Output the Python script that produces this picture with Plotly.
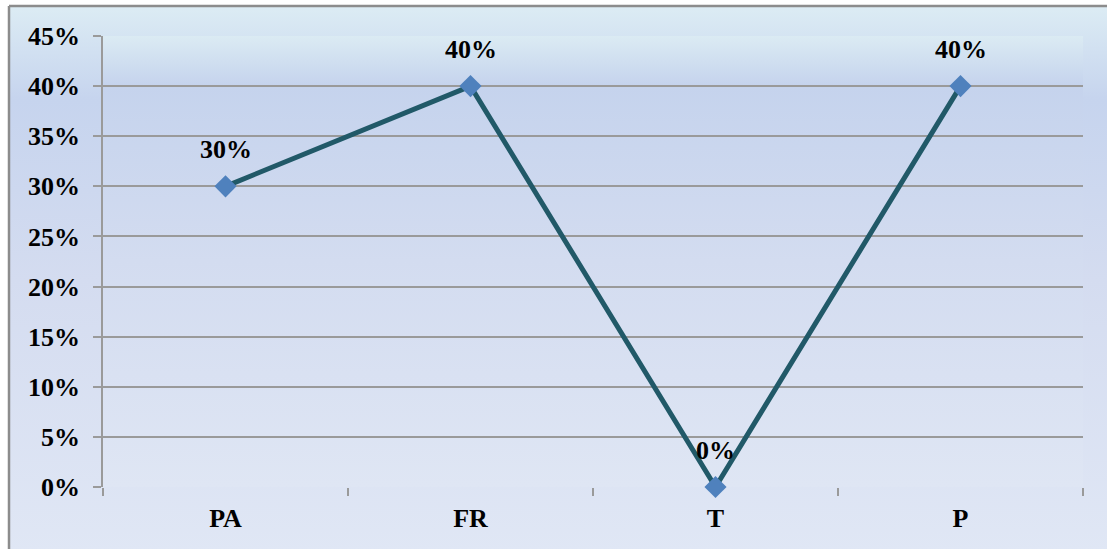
import base64
import plotly.graph_objects as go

categories = ["PA", "FR", "T", "P"]
values = [0.30, 0.40, 0.0, 0.40]
labels = ["30%", "40%", "0%", "40%"]

FONT = "Liberation Serif, Times New Roman, serif"

def grad_svg(stops):
    st = "".join(f'<stop offset="{o}" stop-color="{c}"/>' for o, c in stops)
    svg = ('<svg xmlns="http://www.w3.org/2000/svg" width="100" height="100" preserveAspectRatio="none">'
           f'<defs><linearGradient id="g" x1="0" y1="0" x2="0" y2="1">{st}</linearGradient></defs>'
           '<rect width="100" height="100" fill="url(#g)"/></svg>')
    return "data:image/svg+xml;base64," + base64.b64encode(svg.encode()).decode()

paper_grad = grad_svg([(0, "#dcecf4"), (0.17, "#c6d4ee"), (0.5, "#d4dcf0"), (1, "#e0e7f5")])
plot_grad = grad_svg([(0, "#dbebf3"), (0.11, "#c5d3ed"), (0.5, "#d3dcf0"), (1, "#dfe6f4")])

fig = go.Figure()
fig.add_trace(go.Scatter(
    x=categories, y=values, mode="lines+markers",
    line=dict(color="#215968", width=5),
    marker=dict(symbol="diamond", size=17, color="#4f81bd"),
    cliponaxis=False, showlegend=False,
))

for c, v, t in zip(categories, values, labels):
    fig.add_annotation(x=c, y=v, text=f"<b>{t}</b>", showarrow=False, yshift=37,
                       font=dict(family=FONT, size=26, color="#000000"))

W, H = 1107, 549
L, R, T, B = 103, 24, 36, 62
PW, PH = W - L - R, H - T - B

fig.update_layout(
    width=W, height=H,
    margin=dict(l=L, r=R, t=T, b=B),
    paper_bgcolor="#ffffff",
    plot_bgcolor="rgba(0,0,0,0)",
    font=dict(family=FONT, size=26, color="#000000"),
    images=[
        dict(source=paper_grad, xref="paper", yref="paper",
             x=(9 - L) / PW, y=1 + (T - 6) / PH,
             sizex=(W - 9 + 5) / PW, sizey=(H - 6 + 5) / PH,
             sizing="stretch", layer="below", xanchor="left", yanchor="top"),
        dict(source=plot_grad, xref="paper", yref="paper", x=0, y=1, sizex=1, sizey=1,
             sizing="stretch", layer="below", xanchor="left", yanchor="top"),
    ],
    shapes=[
        dict(type="line", xref="paper", yref="paper",
             x0=(9 - L) / PW, x1=(9 - L) / PW,
             y0=-(B + 10) / PH, y1=1 + (T - 6) / PH,
             line=dict(color="#8c8c8c", width=2.5), layer="above"),
        dict(type="line", xref="paper", yref="paper",
             x0=(9 - L) / PW, x1=(W + 10 - L) / PW,
             y0=1 + (T - 6) / PH, y1=1 + (T - 6) / PH,
             line=dict(color="#8c8c8c", width=2.5), layer="above"),
    ],
    xaxis=dict(
        type="category", range=[-0.5, 3.5],
        showgrid=False, zeroline=False,
        showline=False,
        ticks="outside", tickson="boundaries", ticklen=8, tickwidth=1.5, tickcolor="#9a9a9a",
        tickfont=dict(family=FONT, size=26, color="#000000"),
        tickprefix="<b>", ticksuffix="</b>",
        ticklabelstandoff=13,
        fixedrange=True,
    ),
    yaxis=dict(
        range=[0, 0.45], dtick=0.05, tickformat=".0%",
        showgrid=True, gridcolor="#9a9a9a", gridwidth=1.5,
        zeroline=False,
        showline=True, linecolor="#9a9a9a", linewidth=1.5,
        ticks="outside", ticklen=8, tickwidth=1.5, tickcolor="#9a9a9a",
        tickfont=dict(family=FONT, size=26, color="#000000"),
        tickprefix="<b>", ticksuffix="</b>",
        ticklabelstandoff=8,
        fixedrange=True,
    ),
)

fig.write_html("out.html")
